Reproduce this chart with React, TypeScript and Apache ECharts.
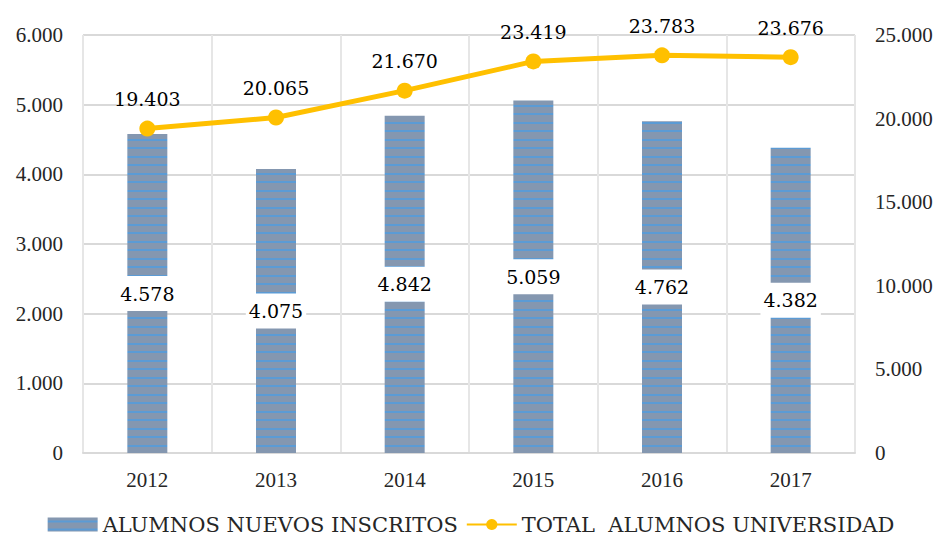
import React, { useEffect, useRef } from "react";
import * as echarts from "echarts";

const categories = ["2012", "2013", "2014", "2015", "2016", "2017"];
const nuevosInscritos = [4578, 4075, 4842, 5059, 4762, 4382];
const totalAlumnos = [19403, 20065, 21670, 23419, 23783, 23676];
const seriesNames = ["ALUMNOS NUEVOS INSCRITOS", "TOTAL  ALUMNOS UNIVERSIDAD"];

const fmt = (v: number) => String(Math.round(v)).replace(/\B(?=(\d{3})+(?!\d))/g, ".");

function makePattern(): HTMLCanvasElement {
  const c = document.createElement("canvas");
  c.width = 8;
  c.height = 17;
  const ctx = c.getContext("2d")!;
  ctx.fillStyle = "#8497B0";
  ctx.fillRect(0, 0, 8, 17);
  ctx.fillStyle = "#5B9BD5";
  ctx.fillRect(0, 3, 8, 2);
  ctx.fillRect(0, 11, 8, 2);
  return c;
}

const font = "Liberation Serif";
const labelFont = "DejaVu Serif";

export default function App() {
  const ref = useRef<HTMLDivElement>(null);
  useEffect(() => {
    if (!ref.current) return;
    const chart = echarts.init(ref.current, undefined, { renderer: "svg" });
    const pattern = { image: makePattern(), repeat: "repeat" } as any;
    chart.setOption({
      animation: false,
      textStyle: { fontFamily: font },
      grid: { left: 83, right: 87, top: 35, bottom: 87 },
      legend: {
        bottom: 0,
        left: "center",
        itemWidth: 50,
        itemHeight: 14,
        itemGap: 8,
        textStyle: { fontFamily: labelFont, fontSize: 21, color: "#262626" },
        data: [
          { name: seriesNames[0], icon: "rect" },
          { name: seriesNames[1] },
        ],
      },
      xAxis: {
        type: "category",
        data: categories,
        axisTick: { show: false },
        axisLine: { lineStyle: { color: "#d9d9d9", width: 2 } },
        axisLabel: { fontFamily: font, fontSize: 21, color: "#262626", margin: 16 },
        splitLine: { show: true, lineStyle: { color: "#e6e6e6", width: 2 } },
      },
      yAxis: [
        {
          type: "value",
          min: 0,
          max: 6000,
          interval: 1000,
          axisLabel: { fontFamily: font, fontSize: 21, color: "#262626", margin: 20, formatter: fmt },
          splitLine: { lineStyle: { color: "#d9d9d9", width: 2 } },
        },
        {
          type: "value",
          min: 0,
          max: 25000,
          interval: 5000,
          axisLabel: { fontFamily: font, fontSize: 21, color: "#262626", margin: 20, formatter: fmt },
          splitLine: { show: false },
        },
      ],
      series: [
        {
          name: seriesNames[0],
          type: "bar",
          data: nuevosInscritos,
          barWidth: 40,
          itemStyle: { color: pattern },
          label: {
            show: true,
            position: "inside",
            formatter: (p: any) => fmt(p.value),
            fontFamily: labelFont,
            fontSize: 19,
            color: "#000",
            backgroundColor: "#fff",
            padding: [8, 3, 8, 3],
          },
        },
        {
          name: seriesNames[1],
          type: "line",
          yAxisIndex: 1,
          data: totalAlumnos,
          symbol: "circle",
          symbolSize: 16,
          lineStyle: { color: "#FFC000", width: 5 },
          itemStyle: { color: "#FFC000" },
          label: {
            show: true,
            position: "top",
            distance: 12,
            formatter: (p: any) => fmt(p.value),
            fontFamily: labelFont,
            fontSize: 19,
            color: "#000",
          },
        },
      ],
    });
    return () => chart.dispose();
  }, []);
  return (
    <div
      ref={ref}
      style={{ position: "absolute", left: 0, top: 0, width: 942, height: 540 }}
    />
  );
}
